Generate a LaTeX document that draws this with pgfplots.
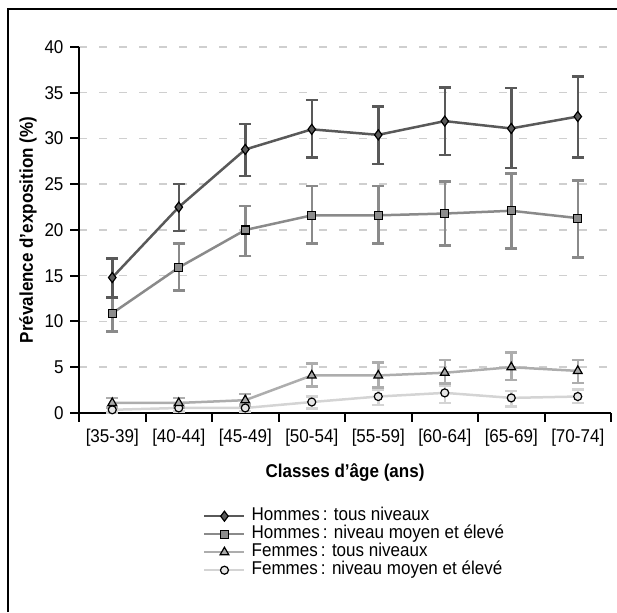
\documentclass[border=0pt]{standalone}
\usepackage{pgfplots}
\usepackage{pgfplotstable}
\pgfplotsset{compat=1.18}
\usepackage{fontspec}
\setmainfont{Liberation Sans}[FakeStretch=0.92]
\definecolor{c1}{HTML}{595959}
\definecolor{c2}{HTML}{8A8A8A}
\definecolor{c3}{HTML}{ADADAD}
\definecolor{c4}{HTML}{D4D4D4}
\definecolor{f1}{HTML}{5A5A5A}
\definecolor{f2}{HTML}{8C8C8C}
\definecolor{f3}{HTML}{A8A8A8}
\definecolor{f4}{HTML}{E6E6E6}
\definecolor{gridc}{HTML}{CFCFCF}

\pgfplotstableread{
x y ep em
0 14.8 2.1 2.2
1 22.5 2.5 2.6
2 28.8 2.8 2.9
3 31.0 3.2 3.1
4 30.4 3.1 3.2
5 31.9 3.7 3.7
6 31.1 4.4 4.3
7 32.4 4.4 4.5
}\hta
\pgfplotstableread{
x y ep em
0 10.9 1.8 2.0
1 15.9 2.6 2.5
2 20.0 2.6 2.85
3 21.6 3.2 3.1
4 21.6 3.2 3.1
5 21.8 3.5 3.5
6 22.1 4.1 4.1
7 21.3 4.1 4.3
}\hmo
\pgfplotstableread{
x y ep em
0 1.1 0.55 0.5
1 1.1 0.55 0.5
2 1.4 0.7 0.6
3 4.1 1.3 1.2
4 4.1 1.4 1.3
5 4.4 1.4 1.2
6 5.0 1.6 1.4
7 4.6 1.2 1.3
}\fta
\pgfplotstableread{
x y ep em
0 0.35 0.3 0.3
1 0.55 0.4 0.4
2 0.55 0.4 0.4
3 1.2 0.6 0.7
4 1.8 0.75 0.9
5 2.2 0.8 1.1
6 1.65 0.75 0.95
7 1.8 0.75 0.7
}\fmo

\begin{document}
\begin{tikzpicture}
\useasboundingbox (0,0) rectangle (617pt,612pt);
\draw[line width=1.5pt,black] (8pt,0pt) -- (8pt,603pt) -- (617pt,603pt);
\begin{axis}[
  at={(79pt,199pt)}, anchor=south west,
  scale only axis, width=532pt, height=366pt,
  xmin=-0.5, xmax=7.5, ymin=0, ymax=40,
  clip=false,
  axis lines=left,
  axis line style={-, line width=2.7pt, black},
  tick align=outside,
  tick style={black, line width=2pt},
  major tick length=9pt,
  ytick={0,5,...,40},
  xtick={-0.5,0.5,1.5,2.5,3.5,4.5,5.5,6.5,7.5},
  xticklabels={{},{[35-39]},{[40-44]},{[45-49]},{[50-54]},{[55-59]},{[60-64]},{[65-69]},{[70-74]}},
  xticklabel style={xshift=-33.25pt, yshift=-4pt},
  yticklabel style={xshift=-3pt},
  /pgf/number format/assume math mode=true,
  tick label style={font=\fontsize{18.5}{22}\selectfont},
  ymajorgrids,
  major grid style={draw=gridc, line width=1.5pt, dash pattern=on 8pt off 12pt},
  every axis y label/.style={at={(axis description cs:-0.0959,0.5)}, rotate=90, anchor=center, font=\fontsize{18.5}{22}\selectfont\bfseries},
  every axis x label/.style={at={(axis description cs:0.5,-0.164)}, anchor=center, font=\fontsize{18.5}{22}\selectfont\bfseries},
  ylabel={Prévalence d’exposition (\%)},
  xlabel={Classes d’âge (ans)},
  reverse legend,
  legend cell align=left,
  legend style={at={(axis description cs:0.2331,-0.2596)}, anchor=north west, draw=none, fill=none, inner sep=0pt, row sep=2pt, column sep=6pt,
    font=\fontsize{18.5}{22}\selectfont, nodes={inner sep=0pt, text height=12.5pt, text depth=3.5pt}},
  legend image code/.code={\draw[mark repeat=2,mark phase=2,#1] plot coordinates {(0pt,0pt)(20pt,0pt)(40pt,0pt)};},
  error bars/y dir=both, error bars/y explicit,
]
\addplot[c4, line width=2.5pt, mark=*, mark size=4pt, mark options={fill=f4, draw=black, line width=1.2pt},
  error bars/error bar style={c4, line width=2.5pt},
  error bars/error mark options={c4, line width=2.5pt, mark size=6pt, rotate=90}]
  table[x=x, y=y, y error plus=ep, y error minus=em]{\fmo};
\addlegendentry{Femmes\,: niveau moyen et élevé}
\addplot[c3, line width=2.5pt, mark=triangle*, mark size=5pt, mark options={fill=f3, draw=black, line width=1.2pt},
  error bars/error bar style={c3, line width=2.5pt},
  error bars/error mark options={c3, line width=2.5pt, mark size=6pt, rotate=90}]
  table[x=x, y=y, y error plus=ep, y error minus=em]{\fta};
\addlegendentry{Femmes\,: tous niveaux}
\addplot[c2, line width=2.5pt, mark=square*, mark size=4pt, mark options={fill=f2, draw=black, line width=1.2pt},
  error bars/error bar style={c2, line width=2.5pt},
  error bars/error mark options={c2, line width=2.5pt, mark size=6pt, rotate=90}]
  table[x=x, y=y, y error plus=ep, y error minus=em]{\hmo};
\addlegendentry{Hommes\,: niveau moyen et élevé}
\addplot[c1, line width=2.5pt, mark=diamond*, mark size=5pt, mark options={fill=f1, draw=black, line width=1.2pt},
  error bars/error bar style={c1, line width=2.5pt},
  error bars/error mark options={c1, line width=2.5pt, mark size=6pt, rotate=90}]
  table[x=x, y=y, y error plus=ep, y error minus=em]{\hta};
\addlegendentry{Hommes\,: tous niveaux}
\end{axis}
\end{tikzpicture}
\end{document}
